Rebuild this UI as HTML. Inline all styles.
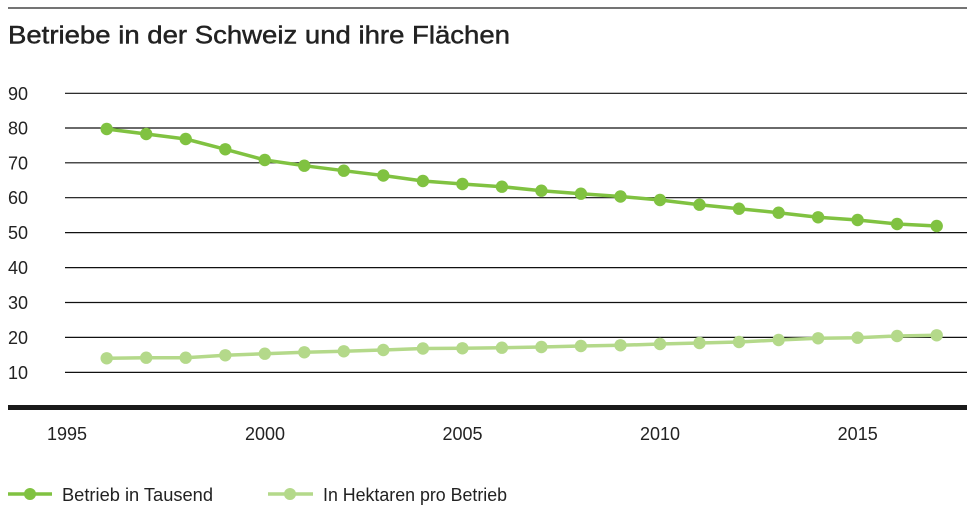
<!DOCTYPE html>
<html>
<head>
<meta charset="utf-8">
<style>
html,body{margin:0;padding:0;background:#fff;}
svg{display:block;}
text{font-family:"Liberation Sans",sans-serif;fill:#222;}
</style>
</head>
<body>
<svg width="977" height="522" viewBox="0 0 977 522" xmlns="http://www.w3.org/2000/svg">
  <rect width="977" height="522" fill="#fff"/>
  <!-- top rule -->
  <line x1="8" y1="8" x2="967" y2="8" stroke="#222" stroke-width="1.3"/>
  <!-- title -->
  <text x="8" y="43.5" font-size="25" textLength="502" lengthAdjust="spacingAndGlyphs" style="stroke:#222;stroke-width:0.45px">Betriebe in der Schweiz und ihre Flächen</text>

  <!-- gridlines -->
  <g stroke="#111" stroke-width="1.2">
    <line x1="65" y1="93.3" x2="967" y2="93.3"/>
    <line x1="65" y1="128" x2="967" y2="128"/>
    <line x1="65" y1="162.8" x2="967" y2="162.8"/>
    <line x1="65" y1="197.7" x2="967" y2="197.7"/>
    <line x1="65" y1="232.6" x2="967" y2="232.6"/>
    <line x1="65" y1="267.6" x2="967" y2="267.6"/>
    <line x1="65" y1="302.5" x2="967" y2="302.5"/>
    <line x1="65" y1="337.4" x2="967" y2="337.4"/>
    <line x1="65" y1="372.4" x2="967" y2="372.4"/>
  </g>
  <!-- y labels -->
  <g font-size="18">
    <text x="8" y="99.8">90</text>
    <text x="8" y="134.5">80</text>
    <text x="8" y="169.3">70</text>
    <text x="8" y="204.2">60</text>
    <text x="8" y="239.1">50</text>
    <text x="8" y="274.1">40</text>
    <text x="8" y="309">30</text>
    <text x="8" y="343.9">20</text>
    <text x="8" y="378.9">10</text>
  </g>

  <!-- axis -->
  <rect x="8" y="405" width="959" height="5" fill="#1a1a1a"/>
  <!-- x labels -->
  <g font-size="18" text-anchor="middle">
    <text x="67" y="440">1995</text>
    <text x="265" y="440">2000</text>
    <text x="462.5" y="440">2005</text>
    <text x="660" y="440">2010</text>
    <text x="857.7" y="440">2015</text>
  </g>

  <!-- dark series -->
  <g fill="#80c241" stroke="none">
    <polyline fill="none" stroke="#80c241" stroke-width="3.5" stroke-linejoin="round" points="106.7,129 146.2,134 185.7,139 225.3,149.3 264.8,160 304.3,165.7 343.8,170.7 383.3,175.5 422.9,181 462.4,184 501.9,186.7 541.4,190.7 580.9,193.7 620.5,196.5 660,200 699.5,204.7 739,208.7 778.6,212.7 818.1,217.3 857.6,220 897.1,224 936.7,226"/>
    <circle cx="106.7" cy="129" r="6.2"/>
    <circle cx="146.2" cy="134" r="6.2"/>
    <circle cx="185.7" cy="139" r="6.2"/>
    <circle cx="225.3" cy="149.3" r="6.2"/>
    <circle cx="264.8" cy="160" r="6.2"/>
    <circle cx="304.3" cy="165.7" r="6.2"/>
    <circle cx="343.8" cy="170.7" r="6.2"/>
    <circle cx="383.3" cy="175.5" r="6.2"/>
    <circle cx="422.9" cy="181" r="6.2"/>
    <circle cx="462.4" cy="184" r="6.2"/>
    <circle cx="501.9" cy="186.7" r="6.2"/>
    <circle cx="541.4" cy="190.7" r="6.2"/>
    <circle cx="580.9" cy="193.7" r="6.2"/>
    <circle cx="620.5" cy="196.5" r="6.2"/>
    <circle cx="660" cy="200" r="6.2"/>
    <circle cx="699.5" cy="204.7" r="6.2"/>
    <circle cx="739" cy="208.7" r="6.2"/>
    <circle cx="778.6" cy="212.7" r="6.2"/>
    <circle cx="818.1" cy="217.3" r="6.2"/>
    <circle cx="857.6" cy="220" r="6.2"/>
    <circle cx="897.1" cy="224" r="6.2"/>
    <circle cx="936.7" cy="226" r="6.2"/>
  </g>

  <!-- light series -->
  <g fill="#b4d98a" stroke="none">
    <polyline fill="none" stroke="#b4d98a" stroke-width="3.5" stroke-linejoin="round" points="106.7,358.3 146.2,357.7 185.7,357.7 225.3,355.3 264.8,353.7 304.3,352.3 343.8,351.3 383.3,350 422.9,348.5 462.4,348.3 501.9,347.7 541.4,347 580.9,346 620.5,345.3 660,344 699.5,343 739,342 778.6,340 818.1,338.3 857.6,337.7 897.1,336 936.7,335.3"/>
    <circle cx="106.7" cy="358.3" r="6.2"/>
    <circle cx="146.2" cy="357.7" r="6.2"/>
    <circle cx="185.7" cy="357.7" r="6.2"/>
    <circle cx="225.3" cy="355.3" r="6.2"/>
    <circle cx="264.8" cy="353.7" r="6.2"/>
    <circle cx="304.3" cy="352.3" r="6.2"/>
    <circle cx="343.8" cy="351.3" r="6.2"/>
    <circle cx="383.3" cy="350" r="6.2"/>
    <circle cx="422.9" cy="348.5" r="6.2"/>
    <circle cx="462.4" cy="348.3" r="6.2"/>
    <circle cx="501.9" cy="347.7" r="6.2"/>
    <circle cx="541.4" cy="347" r="6.2"/>
    <circle cx="580.9" cy="346" r="6.2"/>
    <circle cx="620.5" cy="345.3" r="6.2"/>
    <circle cx="660" cy="344" r="6.2"/>
    <circle cx="699.5" cy="343" r="6.2"/>
    <circle cx="739" cy="342" r="6.2"/>
    <circle cx="778.6" cy="340" r="6.2"/>
    <circle cx="818.1" cy="338.3" r="6.2"/>
    <circle cx="857.6" cy="337.7" r="6.2"/>
    <circle cx="897.1" cy="336" r="6.2"/>
    <circle cx="936.7" cy="335.3" r="6.2"/>
  </g>

  <!-- legend -->
  <line x1="8" y1="494" x2="52" y2="494" stroke="#80c241" stroke-width="3.5"/>
  <circle cx="30" cy="494" r="6" fill="#80c241"/>
  <text x="62" y="501" font-size="18" textLength="151" lengthAdjust="spacingAndGlyphs">Betrieb in Tausend</text>
  <line x1="268" y1="494" x2="313" y2="494" stroke="#b4d98a" stroke-width="3.5"/>
  <circle cx="290" cy="494" r="6" fill="#b4d98a"/>
  <text x="323" y="501" font-size="18" textLength="184" lengthAdjust="spacingAndGlyphs">In Hektaren pro Betrieb</text>
</svg>
</body>
</html>
